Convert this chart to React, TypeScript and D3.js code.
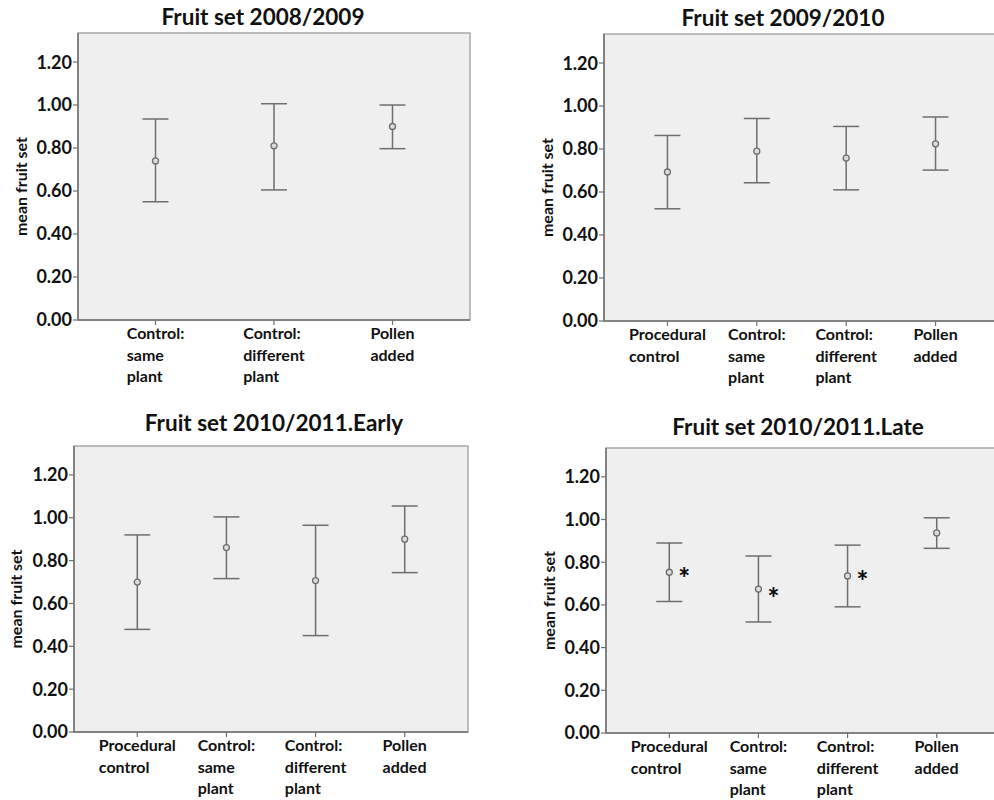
import React from "react";
import * as d3 from "d3";

const catsA = ["Control:\nsame\nplant", "Control:\ndifferent\nplant", "Pollen\nadded"];
const catsB = ["Procedural\ncontrol", "Control:\nsame\nplant", "Control:\ndifferent\nplant", "Pollen\nadded"];

const titles = ["Fruit set 2008/2009", "Fruit set 2009/2010", "Fruit set 2010/2011.Early", "Fruit set 2010/2011.Late"];

const mean1 = [0.74, 0.81, 0.90];
const lo1 = [0.55, 0.605, 0.797];
const hi1 = [0.935, 1.006, 1.0];

const mean2 = [0.693, 0.79, 0.758, 0.824];
const lo2 = [0.522, 0.643, 0.61, 0.702];
const hi2 = [0.863, 0.942, 0.905, 0.949];

const mean3 = [0.70, 0.861, 0.707, 0.90];
const lo3 = [0.479, 0.716, 0.45, 0.744];
const hi3 = [0.92, 1.004, 0.965, 1.055];

const mean4 = [0.753, 0.674, 0.736, 0.937];
const lo4 = [0.616, 0.52, 0.591, 0.865];
const hi4 = [0.89, 0.829, 0.88, 1.008];
const star4 = [true, true, true, false];

const yTicks = [0, 0.2, 0.4, 0.6, 0.8, 1.0, 1.2];
const yMax = 1.335;

const FONT = "Lato, 'Open Sans', sans-serif";

type Box = { l: number; r: number; t: number; b: number };

const panels = [
  { title: titles[0], cats: catsA, mean: mean1, lo: lo1, hi: hi1, star: null as boolean[] | null, box: { l: 78, r: 470, t: 33, b: 320 }, pad: 0.654, titleX: 263, titleY: 25, labX: 21 },
  { title: titles[1], cats: catsB, mean: mean2, lo: lo2, hi: hi2, star: null, box: { l: 604, r: 999, t: 34, b: 321 }, pad: 0.71, titleX: 783, titleY: 26, labX: 547 },
  { title: titles[2], cats: catsB, mean: mean3, lo: lo3, hi: hi3, star: null, box: { l: 74, r: 468, t: 446, b: 732 }, pad: 0.71, titleX: 274, titleY: 431, labX: 16 },
  { title: titles[3], cats: catsB, mean: mean4, lo: lo4, hi: hi4, star: star4, box: { l: 606, r: 1000, t: 448, b: 733 }, pad: 0.71, titleX: 798, titleY: 435, labX: 549 },
];

let ctx: CanvasRenderingContext2D | null = null;
function textWidth(s: string, font: string) {
  if (typeof document === "undefined") return s.length * 8;
  if (!ctx) ctx = document.createElement("canvas").getContext("2d");
  if (!ctx) return s.length * 8;
  ctx.font = font;
  return ctx.measureText(s).width;
}

function Panel({ p }: { p: (typeof panels)[number] }) {
  const box: Box = p.box;
  const x = d3.scalePoint<string>().domain(p.cats).range([box.l, box.r]).padding(p.pad);
  const y = d3.scaleLinear().domain([0, yMax]).range([box.b, box.t]);
  const capW = 13;
  const barColor = "#6e6e6e";
  const labSize = 16;
  const labFont = `bold ${labSize}px ${FONT}`;
  return (
    <g>
      <text x={p.titleX} y={p.titleY} textAnchor="middle" fontFamily={FONT} fontWeight="bold" fontSize={22.5} fill="#111">
        {p.title}
      </text>
      <rect x={box.l} y={box.t} width={box.r - box.l} height={box.b - box.t} fill="#efefef" stroke="#a8a8a8" strokeWidth={1.5} />
      <line x1={box.l} x2={box.l} y1={box.t} y2={box.b} stroke="#707070" strokeWidth={1.5} />
      <line x1={box.l} x2={box.r} y1={box.b} y2={box.b} stroke="#707070" strokeWidth={1.5} />
      {yTicks.map((t) => (
        <g key={t}>
          <line x1={box.l - 5} x2={box.l} y1={y(t)} y2={y(t)} stroke="#707070" strokeWidth={1.2} />
          <text x={box.l - 6} y={y(t)} dy="0.36em" textAnchor="end" fontFamily={FONT} fontWeight="bold" fontSize={18} fill="#111">
            {d3.format(".2f")(t)}
          </text>
        </g>
      ))}
      <text
        transform={`translate(${p.labX},${(box.t + box.b) / 2 + 10}) rotate(-90)`}
        textAnchor="middle"
        dy="0.35em"
        fontFamily={FONT}
        fontWeight="bold"
        fontSize={16}
        fill="#111"
      >
        mean fruit set
      </text>
      {p.cats.map((c) => {
        const cx = x(c) as number;
        const lines = c.split("\n");
        const w = Math.max(...lines.map((s) => textWidth(s, labFont)));
        return (
          <g key={c}>
            <line x1={cx} x2={cx} y1={box.b} y2={box.b + 5} stroke="#707070" strokeWidth={1.2} />
            <text fontFamily={FONT} fontWeight="bold" fontSize={labSize} fill="#111">
              {lines.map((s, i) => (
                <tspan key={i} x={cx - w / 2} y={box.b + 19 + i * 21.5}>
                  {s}
                </tspan>
              ))}
            </text>
          </g>
        );
      })}
      {p.cats.map((c, i) => {
        const cx = x(c) as number;
        return (
          <g key={"e" + c}>
            <line x1={cx} x2={cx} y1={y(p.lo[i])} y2={y(p.hi[i])} stroke={barColor} strokeWidth={1.5} />
            <line x1={cx - capW} x2={cx + capW} y1={y(p.lo[i])} y2={y(p.lo[i])} stroke={barColor} strokeWidth={1.5} />
            <line x1={cx - capW} x2={cx + capW} y1={y(p.hi[i])} y2={y(p.hi[i])} stroke={barColor} strokeWidth={1.5} />
            <circle cx={cx} cy={y(p.mean[i])} r={3} fill="#dcdcdc" stroke={barColor} strokeWidth={1.3} />
            {p.star && p.star[i] ? (
              <text x={cx + 15} y={y(p.mean[i]) + (i === 1 ? 3 : 0)} dy="0.55em" textAnchor="middle" fontFamily={FONT} fontWeight="900" fontSize={28} fill="#111">
                *
              </text>
            ) : null}
          </g>
        );
      })}
    </g>
  );
}

export default function App() {
  return (
    <svg width={994} height={800} style={{ position: "absolute", left: 0, top: 0, background: "#fff" }}>
      <rect x={0} y={0} width={994} height={800} fill="#fff" />
      {panels.map((p, i) => (
        <Panel key={i} p={p} />
      ))}
    </svg>
  );
}
